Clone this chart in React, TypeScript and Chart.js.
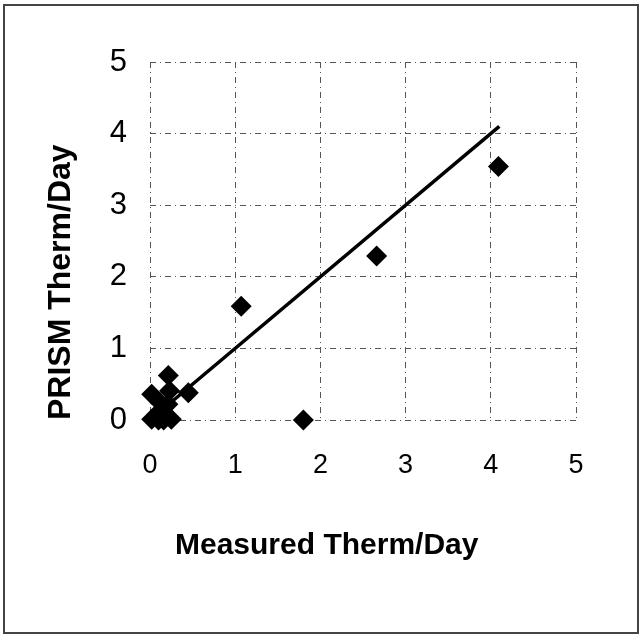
import { useEffect, useRef } from "react";
import { Chart, registerables } from "chart.js";

Chart.register(...registerables);

const measured = [0.02, 0.1, 0.16, 0.25, 0.12, 0.21, 0.12, 0.23, 0.215, 0.02, 0.45, 1.07, 1.8, 2.66, 4.09];
const prism = [0.01, 0.0, 0.0, 0.01, 0.13, 0.22, 0.24, 0.41, 0.62, 0.36, 0.38, 1.59, 0.0, 2.29, 3.54];
const fitX = [0.15, 4.1];
const fitY = [0.15, 4.1];
const tickValues = [0, 1, 2, 3, 4, 5];
const xTitle = "   Measured Therm/Day";
const yTitle = "PRISM Therm/Day";

const FONT = "'Liberation Sans', Arial, sans-serif";

export default function App() {
  const ref = useRef<HTMLCanvasElement | null>(null);

  useEffect(() => {
    if (!ref.current) return;
    const points = measured.map((x, i) => ({ x, y: prism[i] }));
    const fit = fitX.map((x, i) => ({ x, y: fitY[i] }));
    const chart = new Chart(ref.current, {
      type: "scatter",
      data: {
        datasets: [
          {
            type: "line",
            data: fit,
            borderColor: "#000",
            borderWidth: 3.5,
            pointRadius: 0,
            fill: false,
            clip: false as any,
            order: 2,
          },
          {
            data: points,
            pointStyle: "rectRot",
            pointRadius: 10.5,
            pointBackgroundColor: "#000",
            pointBorderColor: "#000",
            pointBorderWidth: 0,
            clip: false as any,
            order: 1,
          },
        ],
      },
      options: {
        animation: false,
        responsive: false,
        maintainAspectRatio: false,
        layout: { padding: { top: 62, right: 63, left: 0, bottom: 0 } },
        plugins: { legend: { display: false }, tooltip: { enabled: false } },
        scales: {
          x: {
            type: "linear",
            min: 0,
            max: 5,
            afterFit: (s: any) => {
              s.height = 216;
            },
            afterBuildTicks: (s: any) => {
              s.ticks = tickValues.map((v) => ({ value: v }));
            },
            ticks: {
              padding: 29,
              color: "#000",
              font: { family: FONT, size: 27 },
              maxRotation: 0,
            },
            grid: {
              drawTicks: false,
              color: "#555",
              lineWidth: 1,
            },
            border: { display: false, dash: [6, 4, 1, 4] },
            title: {
              display: true,
              text: xTitle,
              align: "start",
              color: "#000",
              font: { family: FONT, size: 30, weight: "bold" },
              padding: { top: 0, bottom: 72 },
            },
          },
          y: {
            type: "linear",
            min: 0,
            max: 5,
            afterFit: (s: any) => {
              s.width = 150;
            },
            afterBuildTicks: (s: any) => {
              s.ticks = tickValues.map((v) => ({ value: v }));
            },
            ticks: {
              padding: 23,
              color: "#000",
              font: { family: FONT, size: 31 },
            },
            grid: {
              drawTicks: false,
              color: "#555",
              lineWidth: 1,
            },
            border: { display: false, dash: [6, 4, 1, 4] },
            title: {
              display: true,
              text: yTitle,
              align: "start",
              color: "#000",
              font: { family: FONT, size: 32, weight: "bold" },
              padding: { top: 42, bottom: 0 },
            },
          },
        },
      },
    });
    return () => chart.destroy();
  }, []);

  return (
    <div style={{ position: "absolute", left: 0, top: 0, width: 639, height: 636, background: "#fff" }}>
      <canvas ref={ref} width={639} height={636} style={{ position: "absolute", left: 0, top: 0, width: 639, height: 636 }} />
      <div
        style={{
          position: "absolute",
          left: 3,
          top: 4,
          width: 636,
          height: 630,
          boxSizing: "border-box",
          border: "2px solid #444",
          pointerEvents: "none",
        }}
      />
    </div>
  );
}
